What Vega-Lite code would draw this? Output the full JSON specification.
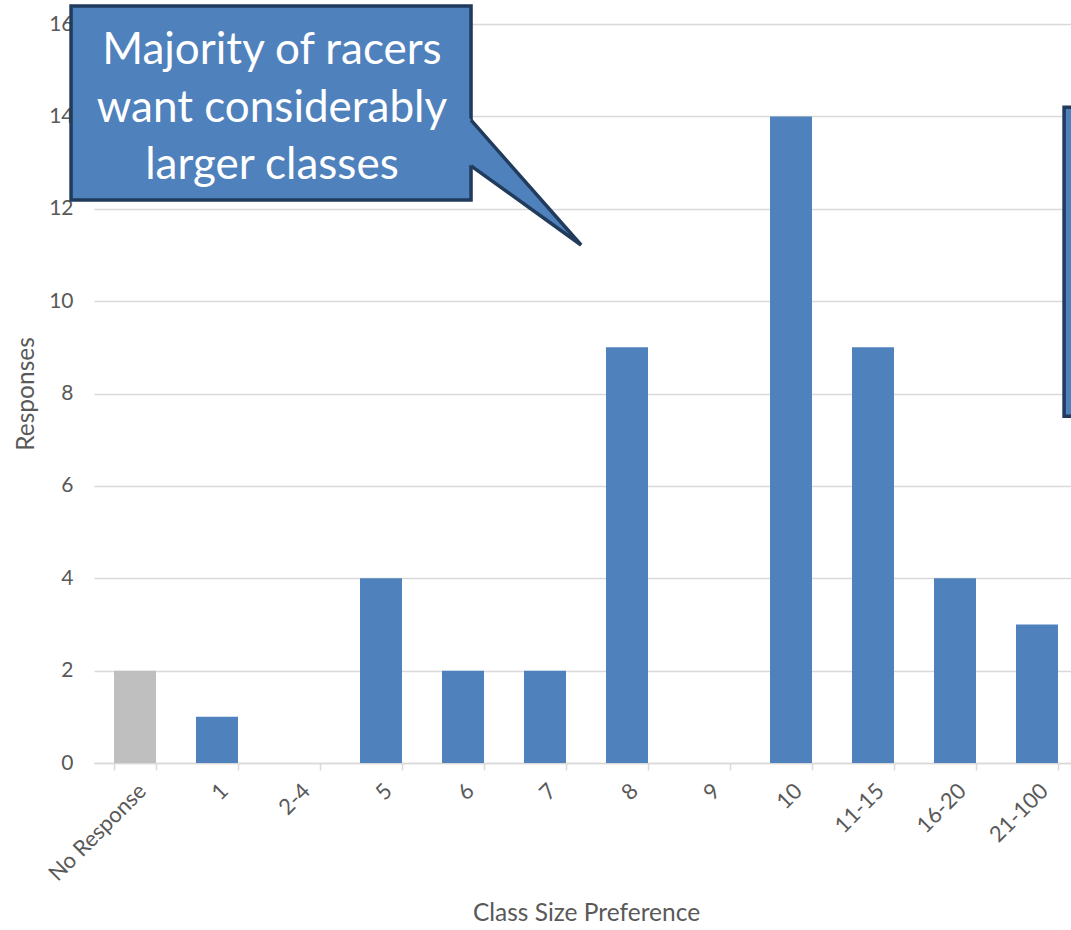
{
  "$schema": "https://vega.github.io/schema/vega-lite/v6.json",
  "width": 977,
  "height": 739,
  "autosize": {"type": "none"},
  "padding": {"left": 94, "top": 24, "right": 0, "bottom": 167},
  "background": "white",
  "config": {"view": {"stroke": null}, "font": "Lato"},
  "datasets": {
    "responses": [
      {"Class Size Preference": "No Response", "Responses": 2, "Group": "No Response"},
      {"Class Size Preference": "1", "Responses": 1, "Group": "Answered"},
      {"Class Size Preference": "2-4", "Responses": 0, "Group": "Answered"},
      {"Class Size Preference": "5", "Responses": 4, "Group": "Answered"},
      {"Class Size Preference": "6", "Responses": 2, "Group": "Answered"},
      {"Class Size Preference": "7", "Responses": 2, "Group": "Answered"},
      {"Class Size Preference": "8", "Responses": 9, "Group": "Answered"},
      {"Class Size Preference": "9", "Responses": 0, "Group": "Answered"},
      {"Class Size Preference": "10", "Responses": 14, "Group": "Answered"},
      {"Class Size Preference": "11-15", "Responses": 9, "Group": "Answered"},
      {"Class Size Preference": "16-20", "Responses": 4, "Group": "Answered"},
      {"Class Size Preference": "21-100", "Responses": 3, "Group": "Answered"}
    ],
    "callout_box": [
      {"left": -0.28, "right": 4.598, "top": 16.39, "bottom": 12.19}
    ],
    "callout_pointer_fill": [
      {"px": 4.55, "top": 14.017, "bottom": 12.99},
      {"px": 5.94, "top": 11.215, "bottom": 11.215}
    ],
    "callout_pointer_edge": [
      {"px": 4.598, "py": 13.92, "step": 1},
      {"px": 5.94, "py": 11.215, "step": 2},
      {"px": 4.598, "py": 12.93, "step": 3}
    ],
    "callout_text": [
      {"line": "Majority of racers", "px": 2.17, "py": 15.134},
      {"line": "want considerably", "px": 2.17, "py": 13.878},
      {"line": "larger classes", "px": 2.17, "py": 12.644}
    ],
    "right_box": [
      {"left": 11.83, "right": 12.6, "top": 14.2, "bottom": 7.51}
    ]
  },
  "layer": [
    {
      "data": {"name": "responses"},
      "mark": {"type": "bar"},
      "encoding": {
        "x": {
          "field": "Class Size Preference",
          "type": "nominal",
          "sort": null,
          "scale": {"range": [0, 984], "paddingInner": 0.4878, "paddingOuter": 0.2439},
          "axis": {
            "labelAngle": -45,
            "labelFontSize": 22,
            "labelColor": "#595959",
            "titleFontSize": 24.5,
            "titleColor": "#595959",
            "titleFontWeight": "normal",
            "domainColor": "#D9D9D9",
            "domainWidth": 1.5,
            "tickColor": "#D9D9D9",
            "tickWidth": 1.5,
            "tickSize": 7,
            "tickBand": "extent",
            "labelPadding": 10,
            "titlePadding": 17,
            "grid": false
          }
        },
        "y": {
          "field": "Responses",
          "type": "quantitative",
          "scale": {"domain": [0, 16], "nice": false},
          "axis": {
            "values": [0, 2, 4, 6, 8, 10, 12, 14, 16],
            "grid": true,
            "gridColor": "#D9D9D9",
            "gridWidth": 1.5,
            "domain": false,
            "ticks": false,
            "labelPadding": 21,
            "labelFontSize": 21,
            "labelColor": "#595959",
            "titleFontSize": 24.5,
            "titleColor": "#595959",
            "titleFontWeight": "normal",
            "titlePadding": 10
          }
        },
        "color": {
          "field": "Group",
          "type": "nominal",
          "scale": {"domain": ["No Response", "Answered"], "range": ["#BFBFBF", "#4F81BD"]},
          "legend": null
        }
      }
    },
    {
      "data": {"name": "callout_box"},
      "mark": {"type": "rect", "fill": "#4F81BD", "stroke": "#213B5C", "strokeWidth": 3.5},
      "encoding": {
        "x": {"field": "left", "type": "quantitative", "scale": {"domain": [0, 12], "range": [0, 984], "nice": false, "zero": false}, "axis": null},
        "x2": {"field": "right"},
        "y": {"field": "top", "type": "quantitative", "scale": {"domain": [0, 16], "nice": false}, "axis": null},
        "y2": {"field": "bottom"}
      }
    },
    {
      "data": {"name": "callout_pointer_fill"},
      "mark": {"type": "area", "fill": "#4F81BD"},
      "encoding": {
        "x": {"field": "px", "type": "quantitative", "scale": {"domain": [0, 12], "range": [0, 984], "nice": false, "zero": false}, "axis": null},
        "y": {"field": "top", "type": "quantitative", "scale": {"domain": [0, 16], "nice": false}, "axis": null},
        "y2": {"field": "bottom"}
      }
    },
    {
      "data": {"name": "callout_pointer_edge"},
      "mark": {"type": "line", "stroke": "#213B5C", "strokeWidth": 3.5, "strokeJoin": "miter"},
      "encoding": {
        "x": {"field": "px", "type": "quantitative", "scale": {"domain": [0, 12], "range": [0, 984], "nice": false, "zero": false}, "axis": null},
        "y": {"field": "py", "type": "quantitative", "scale": {"domain": [0, 16], "nice": false}, "axis": null},
        "order": {"field": "step", "type": "quantitative"}
      }
    },
    {
      "data": {"name": "callout_text"},
      "mark": {"type": "text", "fill": "white", "fontSize": 44, "font": "Lato", "align": "center", "baseline": "alphabetic"},
      "encoding": {
        "x": {"field": "px", "type": "quantitative", "scale": {"domain": [0, 12], "range": [0, 984], "nice": false, "zero": false}, "axis": null},
        "y": {"field": "py", "type": "quantitative", "scale": {"domain": [0, 16], "nice": false}, "axis": null},
        "text": {"field": "line", "type": "nominal"}
      }
    },
    {
      "data": {"name": "right_box"},
      "mark": {"type": "rect", "fill": "#4F81BD", "stroke": "#213B5C", "strokeWidth": 3.5},
      "encoding": {
        "x": {"field": "left", "type": "quantitative", "scale": {"domain": [0, 12], "range": [0, 984], "nice": false, "zero": false}, "axis": null},
        "x2": {"field": "right"},
        "y": {"field": "top", "type": "quantitative", "scale": {"domain": [0, 16], "nice": false}, "axis": null},
        "y2": {"field": "bottom"}
      }
    }
  ],
  "resolve": {"scale": {"x": "independent"}, "axis": {"x": "independent", "y": "independent"}}
}
